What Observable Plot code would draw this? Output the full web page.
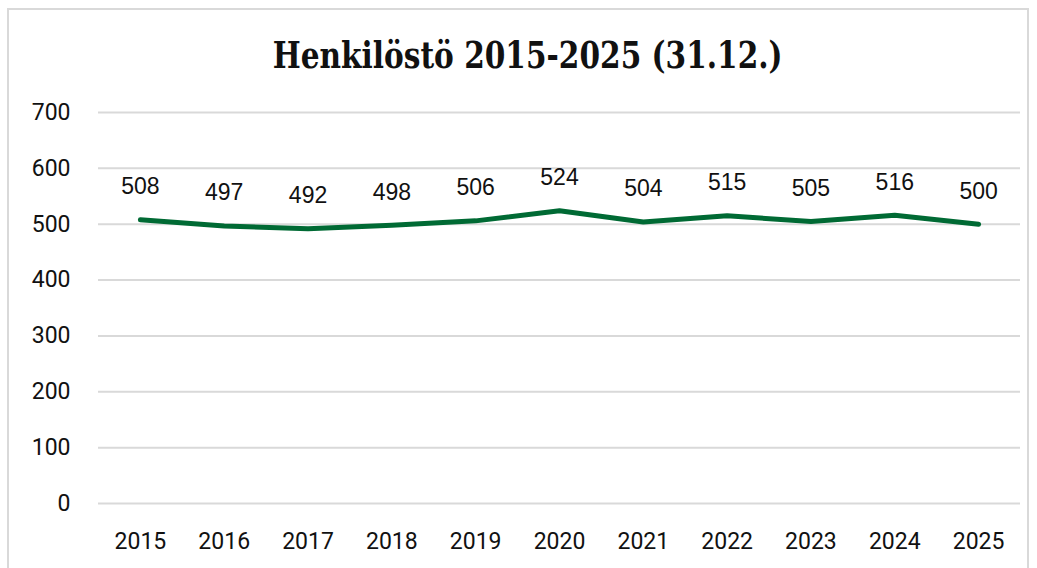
<!DOCTYPE html>
<html>
<head>
<meta charset="utf-8">
<script src="https://cdn.jsdelivr.net/npm/d3@7"></script>
<script src="https://cdn.jsdelivr.net/npm/@observablehq/plot@0.6"></script>
<style>
  html, body { margin: 0; padding: 0; background: #fff; width: 1037px; height: 568px; overflow: hidden; }
  #wrap { position: relative; width: 1037px; height: 568px; }
  #frame { position: absolute; left: 7px; top: 8px; width: 1022px; height: 600px; border: 2px solid #d9d9d9; box-sizing: border-box; }
  #title { position: absolute; left: 0; width: 1056px; top: 37px; text-align: center; line-height: 37px;
           font-family: "DejaVu Serif", serif; font-weight: bold; font-size: 37px; color: #111; }
  #title span { display: inline-block; transform: scaleX(0.80); transform-origin: center; white-space: nowrap; }
  #chart { position: absolute; left: 0; top: 0; }
</style>
</head>
<body>
<div id="wrap">
  <div id="frame"></div>
  <div id="chart"></div>
  <div id="title"><span>Henkilöstö 2015-2025 (31.12.)</span></div>
</div>
<script>
const years = ["2015","2016","2017","2018","2019","2020","2021","2022","2023","2024","2025"];
const staff = [508, 497, 492, 498, 506, 524, 504, 515, 505, 516, 500];
const yTicks = [0, 100, 200, 300, 400, 500, 600, 700];

const data = years.map((y, i) => ({year: y, value: staff[i]}));

const chart = Plot.plot({
  width: 1037,
  height: 568,
  marginLeft: 98,
  marginRight: 17,
  marginTop: 112,
  marginBottom: 65,
  style: {fontFamily: "Roboto, sans-serif", fontSize: "23px", color: "#111", background: "transparent"},
  x: {type: "point", domain: years, padding: 0.5, round: false, label: null},
  y: {domain: [0, 700], label: null},
  marks: [
    Plot.ruleY(yTicks, {stroke: "#d9d9d9", strokeWidth: 2, strokeOpacity: 1}),
    Plot.axisY(yTicks, {tickSize: 0, tickPadding: 28, fontSize: 23, label: null}),
    Plot.axisX(years, {tickSize: 0, tickPadding: 29, fontSize: 23, label: null}),
    Plot.line(data, {x: "year", y: "value", stroke: "#006a34", strokeWidth: 5, strokeLinejoin: "round", strokeLinecap: "round"}),
    Plot.text(data, {x: "year", y: "value", text: d => String(d.value), dy: -33, fontSize: 23, fill: "#111", fontFamily: "'Liberation Sans', Arial, sans-serif"})
  ]
});
document.getElementById("chart").appendChild(chart);
</script>
</body>
</html>
